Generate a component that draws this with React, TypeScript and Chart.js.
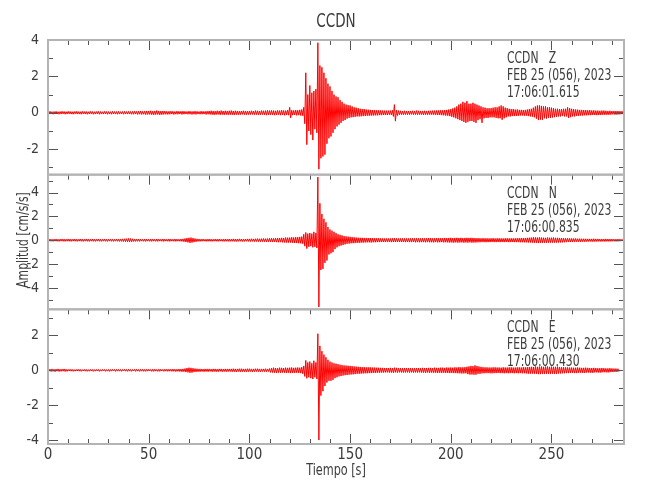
import React, { useEffect, useRef } from 'react';
import { Chart, registerables } from 'chart.js';

Chart.register(...registerables);

// ---------------- data ----------------
const STATION = 'CCDN';
const X_LABEL = 'Tiempo [s]';
const Y_LABEL = 'Amplitud [cm/s/s]';
const DATE_LABEL = 'FEB 25 (056), 2023';
const COMPONENTS = ['Z', 'N', 'E'];
const START_TIMES = ['17:06:01.615', '17:06:00.835', '17:06:00.430'];
const X_MIN = 0;
const X_MAX = 286;
const X_MAJOR_STEP = 50;
const X_MINOR_STEP = 10;
const BIN_SECONDS = 1; // each bin gives its max (at bin start) and min (at bin middle)
const Y_MAJOR_STEP = 2;
const Y_MINOR_STEP = 1;
const Z_RANGE = [-3.4, 4];
const N_RANGE = [-5.8, 5.5];
const E_RANGE = [-4.23, 3.5];

// per-second maxima / minima, cm/s/s
const Z_HI = [
  0.07, 0.08, 0.06, 0.07, 0.08, 0.06, 0.07, 0.08, 0.07, 0.06,
  0.08, 0.07, 0.06, 0.07, 0.08, 0.07, 0.06, 0.08, 0.07, 0.07,
  0.06, 0.08, 0.07, 0.06, 0.07, 0.08, 0.07, 0.06, 0.08, 0.07,
  0.07, 0.06, 0.08, 0.07, 0.07, 0.08, 0.06, 0.07, 0.08, 0.07,
  0.08, 0.07, 0.08, 0.09, 0.08, 0.09, 0.1, 0.08, 0.09, 0.1,
  0.1, 0.11, 0.09, 0.1, 0.12, 0.1, 0.09, 0.1, 0.09, 0.08,
  0.08, 0.09, 0.08, 0.07, 0.09, 0.08, 0.08, 0.09, 0.08, 0.07,
  0.09, 0.08, 0.08, 0.09, 0.08, 0.07, 0.09, 0.08, 0.08, 0.09,
  0.1, 0.11, 0.1, 0.09, 0.11, 0.1, 0.12, 0.1, 0.11, 0.1,
  0.11, 0.12, 0.1, 0.11, 0.1, 0.09, 0.1, 0.11, 0.1, 0.09,
  0.1, 0.11, 0.1, 0.12, 0.11, 0.1, 0.12, 0.11, 0.12, 0.13,
  0.12, 0.13, 0.12, 0.11, 0.13, 0.12, 0.14, 0.13, 0.12, 0.15,
  0.3, 0.14, 0.13, 0.15, 0.14, 0.16, 0.18, 0.3, 2.2, 1.0,
  1.5, 1.1, 1.2, 1.3, 3.85, 2.6, 2.5, 2.2, 1.9, 1.6,
  1.45, 1.2, 1.0, 0.9, 0.85, 0.7, 0.6, 0.5, 0.45, 0.42,
  0.4, 0.35, 0.3, 0.28, 0.25, 0.22, 0.2, 0.2, 0.18, 0.17,
  0.16, 0.15, 0.15, 0.14, 0.14, 0.13, 0.13, 0.12, 0.12, 0.12,
  0.12, 0.14, 0.45, 0.15, 0.12, 0.11, 0.1, 0.11, 0.1, 0.1,
  0.1, 0.11, 0.1, 0.12, 0.11, 0.1, 0.1, 0.11, 0.1, 0.11,
  0.11, 0.12, 0.12, 0.13, 0.13, 0.14, 0.14, 0.15, 0.16, 0.18,
  0.2, 0.24, 0.28, 0.35, 0.45, 0.5, 0.6, 0.55, 0.64, 0.5,
  0.5, 0.55, 0.5, 0.45, 0.4, 0.35, 0.3, 0.28, 0.25, 0.25,
  0.25, 0.28, 0.3, 0.3, 0.35, 0.4, 0.35, 0.28, 0.25, 0.22,
  0.2, 0.2, 0.18, 0.18, 0.16, 0.16, 0.15, 0.16, 0.18, 0.2,
  0.22, 0.28, 0.35, 0.4, 0.4, 0.38, 0.35, 0.35, 0.3, 0.3,
  0.28, 0.25, 0.22, 0.22, 0.2, 0.2, 0.22, 0.22, 0.3, 0.25,
  0.22, 0.2, 0.18, 0.17, 0.16, 0.16, 0.15, 0.15, 0.14, 0.14,
  0.13, 0.13, 0.12, 0.12, 0.11, 0.12, 0.12, 0.11, 0.1, 0.11,
  0.1, 0.1, 0.1, 0.1, 0.09, 0.09,
];
const Z_LO = [
  -0.07, -0.06, -0.08, -0.07, -0.06, -0.08, -0.07, -0.06, -0.08, -0.07,
  -0.06, -0.07, -0.08, -0.06, -0.07, -0.07, -0.08, -0.06, -0.07, -0.08,
  -0.07, -0.06, -0.08, -0.07, -0.06, -0.08, -0.07, -0.07, -0.06, -0.08,
  -0.07, -0.08, -0.06, -0.07, -0.08, -0.07, -0.06, -0.08, -0.07, -0.07,
  -0.07, -0.08, -0.08, -0.07, -0.09, -0.08, -0.09, -0.08, -0.1, -0.09,
  -0.09, -0.1, -0.11, -0.1, -0.09, -0.11, -0.1, -0.09, -0.08, -0.09,
  -0.08, -0.07, -0.09, -0.08, -0.08, -0.07, -0.09, -0.08, -0.07, -0.08,
  -0.08, -0.09, -0.08, -0.09, -0.07, -0.08, -0.08, -0.07, -0.09, -0.08,
  -0.09, -0.1, -0.11, -0.1, -0.09, -0.11, -0.1, -0.11, -0.1, -0.11,
  -0.1, -0.11, -0.12, -0.1, -0.11, -0.1, -0.09, -0.1, -0.11, -0.1,
  -0.1, -0.09, -0.11, -0.1, -0.12, -0.11, -0.1, -0.12, -0.13, -0.12,
  -0.11, -0.12, -0.13, -0.12, -0.11, -0.13, -0.12, -0.14, -0.12, -0.13,
  -0.28, -0.13, -0.12, -0.14, -0.13, -0.15, -0.16, -0.6, -1.75, -1.0,
  -1.2, -1.5, -0.9, -1.1, -3.1, -2.5, -2.4, -2.3, -1.7, -1.4,
  -1.3, -1.1, -0.9, -0.75, -0.65, -0.55, -0.45, -0.4, -0.32, -0.28,
  -0.25, -0.24, -0.22, -0.2, -0.2, -0.19, -0.18, -0.17, -0.16, -0.16,
  -0.15, -0.15, -0.14, -0.14, -0.13, -0.13, -0.12, -0.12, -0.12, -0.11,
  -0.12, -0.2, -0.46, -0.15, -0.11, -0.1, -0.11, -0.1, -0.1, -0.1,
  -0.09, -0.1, -0.1, -0.11, -0.1, -0.1, -0.11, -0.1, -0.11, -0.1,
  -0.1, -0.11, -0.11, -0.12, -0.12, -0.13, -0.14, -0.15, -0.16, -0.18,
  -0.22, -0.25, -0.3, -0.35, -0.4, -0.45, -0.5, -0.55, -0.5, -0.45,
  -0.45, -0.5, -0.55, -0.4, -0.35, -0.55, -0.3, -0.28, -0.28, -0.25,
  -0.25, -0.25, -0.28, -0.3, -0.3, -0.38, -0.3, -0.25, -0.2, -0.2,
  -0.18, -0.18, -0.17, -0.17, -0.15, -0.15, -0.16, -0.16, -0.18, -0.2,
  -0.22, -0.25, -0.32, -0.4, -0.38, -0.38, -0.3, -0.32, -0.28, -0.28,
  -0.26, -0.24, -0.22, -0.2, -0.2, -0.18, -0.2, -0.2, -0.28, -0.24,
  -0.2, -0.2, -0.17, -0.17, -0.15, -0.15, -0.14, -0.14, -0.13, -0.13,
  -0.12, -0.12, -0.13, -0.12, -0.12, -0.11, -0.11, -0.11, -0.11, -0.1,
  -0.09, -0.1, -0.1, -0.09, -0.08, -0.08,
];

const N_HI = [
  0.09, 0.1, 0.08, 0.09, 0.1, 0.08, 0.09, 0.1, 0.09, 0.08,
  0.1, 0.09, 0.08, 0.1, 0.09, 0.08, 0.1, 0.09, 0.08, 0.1,
  0.09, 0.08, 0.1, 0.09, 0.08, 0.1, 0.09, 0.08, 0.1, 0.09,
  0.08, 0.1, 0.09, 0.08, 0.1, 0.09, 0.1, 0.11, 0.12, 0.13,
  0.15, 0.14, 0.12, 0.1, 0.09, 0.1, 0.09, 0.08, 0.1, 0.09,
  0.08, 0.1, 0.09, 0.08, 0.1, 0.09, 0.08, 0.1, 0.09, 0.08,
  0.1, 0.09, 0.08, 0.1, 0.09, 0.08, 0.1, 0.11, 0.14, 0.18,
  0.2, 0.22, 0.18, 0.14, 0.11, 0.1, 0.09, 0.1, 0.08, 0.09,
  0.1, 0.09, 0.08, 0.1, 0.09, 0.1, 0.08, 0.09, 0.1, 0.09,
  0.1, 0.09, 0.11, 0.1, 0.1, 0.11, 0.1, 0.09, 0.1, 0.11,
  0.11, 0.12, 0.11, 0.12, 0.13, 0.12, 0.13, 0.14, 0.13, 0.14,
  0.15, 0.16, 0.15, 0.17, 0.18, 0.17, 0.2, 0.19, 0.22, 0.21,
  0.22, 0.24, 0.23, 0.25, 0.26, 0.28, 0.3, 0.5, 0.65, 0.55,
  0.6, 0.55, 0.7, 0.6, 5.3, 3.1, 2.2, 1.8, 1.5, 1.1,
  0.9, 0.8, 0.7, 0.6, 0.5, 0.45, 0.4, 0.35, 0.32, 0.3,
  0.28, 0.26, 0.24, 0.22, 0.21, 0.2, 0.2, 0.19, 0.19, 0.18,
  0.18, 0.18, 0.17, 0.17, 0.16, 0.16, 0.15, 0.15, 0.15, 0.15,
  0.15, 0.16, 0.18, 0.16, 0.15, 0.15, 0.16, 0.15, 0.16, 0.15,
  0.16, 0.17, 0.16, 0.17, 0.16, 0.15, 0.17, 0.16, 0.17, 0.18,
  0.18, 0.16, 0.17, 0.18, 0.17, 0.18, 0.17, 0.19, 0.18, 0.19,
  0.2, 0.18, 0.19, 0.2, 0.19, 0.2, 0.18, 0.19, 0.2, 0.19,
  0.2, 0.19, 0.18, 0.17, 0.17, 0.16, 0.17, 0.16, 0.16, 0.15,
  0.16, 0.17, 0.15, 0.16, 0.16, 0.15, 0.15, 0.16, 0.16, 0.15,
  0.16, 0.15, 0.16, 0.17, 0.17, 0.18, 0.18, 0.19, 0.2, 0.21,
  0.22, 0.24, 0.23, 0.22, 0.24, 0.22, 0.21, 0.2, 0.22, 0.21,
  0.21, 0.22, 0.2, 0.2, 0.19, 0.18, 0.17, 0.16, 0.16, 0.15,
  0.15, 0.14, 0.14, 0.13, 0.13, 0.12, 0.12, 0.12, 0.11, 0.11,
  0.11, 0.12, 0.11, 0.11, 0.1, 0.1, 0.1, 0.11, 0.1, 0.1,
  0.1, 0.09, 0.09, 0.1, 0.09, 0.08,
];
const N_LO = [
  -0.08, -0.09, -0.1, -0.08, -0.09, -0.1, -0.08, -0.09, -0.1, -0.08,
  -0.09, -0.1, -0.08, -0.09, -0.1, -0.08, -0.09, -0.1, -0.08, -0.09,
  -0.1, -0.08, -0.09, -0.1, -0.08, -0.09, -0.1, -0.08, -0.09, -0.1,
  -0.08, -0.09, -0.1, -0.08, -0.09, -0.1, -0.1, -0.11, -0.12, -0.13,
  -0.14, -0.13, -0.11, -0.1, -0.09, -0.1, -0.08, -0.09, -0.1, -0.08,
  -0.09, -0.1, -0.08, -0.09, -0.1, -0.08, -0.09, -0.1, -0.08, -0.09,
  -0.1, -0.08, -0.09, -0.1, -0.08, -0.09, -0.1, -0.12, -0.15, -0.18,
  -0.22, -0.2, -0.16, -0.13, -0.1, -0.1, -0.09, -0.08, -0.1, -0.09,
  -0.09, -0.1, -0.08, -0.09, -0.1, -0.08, -0.09, -0.1, -0.09, -0.1,
  -0.1, -0.09, -0.1, -0.11, -0.1, -0.09, -0.11, -0.1, -0.09, -0.1,
  -0.11, -0.1, -0.12, -0.11, -0.12, -0.13, -0.12, -0.13, -0.14, -0.13,
  -0.14, -0.15, -0.14, -0.16, -0.17, -0.16, -0.18, -0.19, -0.2, -0.2,
  -0.2, -0.22, -0.23, -0.24, -0.25, -0.26, -0.3, -0.5, -0.7, -0.55,
  -0.5, -0.6, -0.55, -0.65, -5.6, -2.5, -2.4, -1.9, -1.7, -1.2,
  -1.1, -1.0, -0.75, -0.6, -0.5, -0.45, -0.4, -0.35, -0.3, -0.28,
  -0.26, -0.25, -0.24, -0.22, -0.22, -0.2, -0.2, -0.19, -0.18, -0.18,
  -0.19, -0.17, -0.17, -0.16, -0.16, -0.15, -0.15, -0.15, -0.14, -0.15,
  -0.16, -0.15, -0.15, -0.15, -0.14, -0.15, -0.15, -0.16, -0.15, -0.16,
  -0.16, -0.15, -0.17, -0.16, -0.17, -0.16, -0.16, -0.17, -0.16, -0.17,
  -0.17, -0.18, -0.16, -0.18, -0.17, -0.16, -0.18, -0.17, -0.18, -0.19,
  -0.19, -0.2, -0.18, -0.2, -0.19, -0.18, -0.2, -0.19, -0.2, -0.18,
  -0.2, -0.19, -0.19, -0.17, -0.17, -0.16, -0.16, -0.17, -0.16, -0.16,
  -0.15, -0.16, -0.16, -0.15, -0.16, -0.15, -0.16, -0.15, -0.16, -0.16,
  -0.15, -0.16, -0.16, -0.16, -0.17, -0.17, -0.18, -0.18, -0.19, -0.19,
  -0.2, -0.22, -0.22, -0.24, -0.23, -0.22, -0.21, -0.22, -0.21, -0.2,
  -0.2, -0.2, -0.2, -0.19, -0.19, -0.18, -0.17, -0.16, -0.15, -0.15,
  -0.14, -0.14, -0.13, -0.13, -0.14, -0.12, -0.13, -0.12, -0.11, -0.11,
  -0.12, -0.11, -0.11, -0.1, -0.11, -0.1, -0.11, -0.1, -0.1, -0.1,
  -0.09, -0.1, -0.1, -0.09, -0.08, -0.08,
];

const E_HI = [
  0.06, 0.07, 0.08, 0.06, 0.07, 0.08, 0.06, 0.07, 0.08, 0.06,
  0.05, 0.06, 0.05, 0.04, 0.05, 0.06, 0.05, 0.04, 0.05, 0.05,
  0.04, 0.05, 0.05, 0.04, 0.05, 0.05, 0.04, 0.05, 0.05, 0.04,
  0.05, 0.05, 0.06, 0.05, 0.05, 0.06, 0.05, 0.05, 0.06, 0.05,
  0.06, 0.05, 0.05, 0.06, 0.06, 0.05, 0.06, 0.06, 0.05, 0.06,
  0.06, 0.05, 0.06, 0.06, 0.05, 0.06, 0.06, 0.05, 0.06, 0.06,
  0.06, 0.06, 0.07, 0.06, 0.06, 0.07, 0.07, 0.08, 0.1, 0.13,
  0.15, 0.14, 0.12, 0.1, 0.09, 0.08, 0.08, 0.07, 0.08, 0.08,
  0.08, 0.07, 0.08, 0.08, 0.07, 0.08, 0.08, 0.07, 0.08, 0.08,
  0.08, 0.08, 0.09, 0.08, 0.08, 0.09, 0.09, 0.08, 0.08, 0.09,
  0.09, 0.08, 0.08, 0.09, 0.09, 0.08, 0.08, 0.08, 0.09, 0.08,
  0.1, 0.12, 0.15, 0.13, 0.12, 0.15, 0.14, 0.13, 0.15, 0.14,
  0.15, 0.16, 0.14, 0.15, 0.16, 0.15, 0.18, 0.25, 0.57, 0.45,
  0.5, 0.4, 0.55, 0.45, 2.1, 1.4, 1.1, 0.9, 0.75, 0.6,
  0.5, 0.45, 0.4, 0.38, 0.35, 0.32, 0.3, 0.28, 0.27, 0.26,
  0.25, 0.24, 0.22, 0.21, 0.2, 0.19, 0.18, 0.18, 0.17, 0.17,
  0.17, 0.16, 0.16, 0.15, 0.15, 0.14, 0.14, 0.13, 0.13, 0.13,
  0.14, 0.13, 0.15, 0.14, 0.13, 0.12, 0.12, 0.13, 0.13, 0.12,
  0.13, 0.12, 0.12, 0.13, 0.13, 0.12, 0.14, 0.13, 0.13, 0.14,
  0.14, 0.13, 0.15, 0.14, 0.14, 0.15, 0.15, 0.14, 0.16, 0.15,
  0.16, 0.15, 0.17, 0.16, 0.18, 0.17, 0.17, 0.18, 0.2, 0.22,
  0.25, 0.24, 0.28, 0.25, 0.22, 0.2, 0.18, 0.17, 0.17, 0.16,
  0.16, 0.17, 0.17, 0.16, 0.16, 0.15, 0.17, 0.16, 0.16, 0.17,
  0.17, 0.16, 0.16, 0.17, 0.17, 0.16, 0.18, 0.17, 0.18, 0.19,
  0.2, 0.19, 0.22, 0.2, 0.21, 0.22, 0.2, 0.21, 0.22, 0.2,
  0.21, 0.2, 0.2, 0.21, 0.19, 0.18, 0.18, 0.17, 0.17, 0.16,
  0.16, 0.15, 0.15, 0.16, 0.15, 0.14, 0.14, 0.15, 0.14, 0.13,
  0.13, 0.14, 0.13, 0.12, 0.12, 0.13, 0.12, 0.11, 0.11, 0.12,
  0.11, 0.1, 0.1, 0.09,
];
const E_LO = [
  -0.05, -0.07, -0.06, -0.08, -0.05, -0.07, -0.06, -0.05, -0.07, -0.06,
  -0.04, -0.05, -0.06, -0.05, -0.04, -0.05, -0.06, -0.04, -0.05, -0.06,
  -0.05, -0.04, -0.06, -0.05, -0.04, -0.06, -0.05, -0.04, -0.06, -0.05,
  -0.06, -0.05, -0.04, -0.06, -0.05, -0.05, -0.06, -0.04, -0.05, -0.06,
  -0.05, -0.06, -0.04, -0.06, -0.05, -0.06, -0.05, -0.06, -0.06, -0.05,
  -0.04, -0.06, -0.06, -0.05, -0.06, -0.06, -0.04, -0.06, -0.05, -0.06,
  -0.05, -0.06, -0.06, -0.07, -0.06, -0.07, -0.08, -0.08, -0.1, -0.12,
  -0.14, -0.13, -0.1, -0.09, -0.08, -0.08, -0.07, -0.08, -0.07, -0.08,
  -0.06, -0.08, -0.07, -0.08, -0.08, -0.06, -0.08, -0.07, -0.08, -0.07,
  -0.07, -0.08, -0.08, -0.09, -0.07, -0.09, -0.08, -0.08, -0.09, -0.08,
  -0.07, -0.09, -0.08, -0.07, -0.08, -0.09, -0.07, -0.08, -0.08, -0.07,
  -0.12, -0.13, -0.14, -0.15, -0.13, -0.14, -0.13, -0.14, -0.15, -0.14,
  -0.16, -0.15, -0.15, -0.14, -0.15, -0.16, -0.2, -0.35, -0.46, -0.4,
  -0.45, -0.5, -0.4, -0.5, -4.0, -1.45, -1.2, -0.9, -0.7, -0.6,
  -0.6, -0.55, -0.45, -0.4, -0.35, -0.33, -0.3, -0.28, -0.27, -0.25,
  -0.24, -0.23, -0.22, -0.2, -0.2, -0.19, -0.18, -0.17, -0.17, -0.16,
  -0.16, -0.15, -0.15, -0.14, -0.14, -0.13, -0.13, -0.12, -0.12, -0.13,
  -0.13, -0.14, -0.12, -0.13, -0.12, -0.12, -0.13, -0.12, -0.12, -0.13,
  -0.12, -0.13, -0.12, -0.13, -0.12, -0.13, -0.13, -0.14, -0.13, -0.14,
  -0.13, -0.14, -0.14, -0.15, -0.14, -0.15, -0.14, -0.15, -0.15, -0.16,
  -0.15, -0.16, -0.16, -0.17, -0.17, -0.18, -0.18, -0.17, -0.22, -0.24,
  -0.24, -0.25, -0.25, -0.2, -0.2, -0.17, -0.17, -0.16, -0.16, -0.17,
  -0.17, -0.16, -0.16, -0.15, -0.16, -0.16, -0.17, -0.16, -0.17, -0.16,
  -0.16, -0.17, -0.16, -0.17, -0.16, -0.17, -0.17, -0.18, -0.19, -0.19,
  -0.19, -0.2, -0.2, -0.22, -0.22, -0.21, -0.21, -0.2, -0.2, -0.21,
  -0.2, -0.21, -0.21, -0.18, -0.18, -0.17, -0.17, -0.16, -0.16, -0.15,
  -0.15, -0.16, -0.16, -0.14, -0.14, -0.15, -0.15, -0.13, -0.13, -0.14,
  -0.14, -0.12, -0.12, -0.13, -0.13, -0.11, -0.11, -0.12, -0.12, -0.1,
  -0.1, -0.09, -0.09, -0.08,
];

// ---------------- styling ----------------
const FONT_FAMILY = "'DejaVu Sans Condensed', 'Liberation Sans', sans-serif";
const TEXT_COLOR = '#3c3c3c';
const TICK_COLOR = '#555555';
const FRAME_COLOR = '#b4b4b4';
const TRACE_COLOR = '#ff0000';

const PANEL_IDS = ['yZ', 'yN', 'yE'];

function squeezedText(ctx: any, text: string, x: number, y: number, sx: number) {
  ctx.save();
  ctx.translate(x, y);
  ctx.scale(sx, 1);
  ctx.fillText(text, 0, 0);
  ctx.restore();
}

const panelPlugin = {
  id: 'seismoPanels',
  afterDraw(chart: any) {
    const { ctx } = chart;
    const xs = chart.scales.x;
    const left = xs.left;
    const right = xs.right;
    ctx.save();
    const seg = (x1: number, y1: number, x2: number, y2: number) => {
      ctx.beginPath();
      ctx.moveTo(x1, y1);
      ctx.lineTo(x2, y2);
      ctx.stroke();
    };
    PANEL_IDS.forEach((id, i) => {
      const s = chart.scales[id];
      const top = s.top;
      const bottom = s.bottom;
      ctx.strokeStyle = TICK_COLOR;
      ctx.lineWidth = 1;
      for (let t = X_MIN; t <= X_MAX; t += X_MINOR_STEP) {
        const px = Math.round(xs.getPixelForValue(t)) + 0.5;
        const len = t % X_MAJOR_STEP === 0 ? 10 : 5;
        seg(px, top, px, top + len);
        if (i === PANEL_IDS.length - 1) seg(px, bottom, px, bottom - len);
      }
      for (let v = Math.ceil(s.min); v <= Math.floor(s.max); v += Y_MINOR_STEP) {
        const py = Math.round(s.getPixelForValue(v)) + 0.5;
        const len = v % Y_MAJOR_STEP === 0 ? 10 : 5;
        seg(left, py, left + len, py);
        seg(right, py, right - len, py);
      }
      ctx.strokeStyle = FRAME_COLOR;
      ctx.lineWidth = 2;
      ctx.strokeRect(left, top, right - left, bottom - top);

      ctx.fillStyle = TEXT_COLOR;
      ctx.font = `15px ${FONT_FAMILY}`;
      ctx.textAlign = 'left';
      ctx.textBaseline = 'middle';
      const tx = 507;
      squeezedText(ctx, `${STATION}   ${COMPONENTS[i]}`, tx, top + 19, 0.8);
      squeezedText(ctx, DATE_LABEL, tx, top + 36, 0.8);
      squeezedText(ctx, START_TIMES[i], tx, top + 53, 0.8);
    });

    ctx.fillStyle = TEXT_COLOR;
    ctx.textAlign = 'center';
    ctx.textBaseline = 'middle';
    ctx.font = `20px ${FONT_FAMILY}`;
    squeezedText(ctx, STATION, (left + right) / 2, 22, 0.75);
    ctx.font = `16px ${FONT_FAMILY}`;
    squeezedText(ctx, X_LABEL, (left + right) / 2, 471, 0.78);
    ctx.font = `15px ${FONT_FAMILY}`;
    ctx.save();
    ctx.translate(24, 240);
    ctx.rotate(-Math.PI / 2);
    ctx.scale(0.8, 1);
    ctx.fillText(Y_LABEL, 0, 0);
    ctx.restore();
    ctx.restore();
  },
};

function yScale(range: number[]) {
  return {
    type: 'linear',
    position: 'left',
    stack: 'seismo',
    stackWeight: 1,
    min: range[0],
    max: range[1],
    grid: { display: false },
    border: { display: false },
    ticks: {
      stepSize: Y_MAJOR_STEP,
      includeBounds: false,
      autoSkip: false,
      padding: 1,
      color: TEXT_COLOR,
      font: { family: FONT_FAMILY, size: 14 },
    },
    afterFit: (s: any) => {
      s.width = 48;
    },
  };
}

// each bin contributes its maximum then its minimum, giving the dense trace
function trace(hi: number[], lo: number[], axis: string) {
  const pts: { x: number; y: number }[] = [];
  hi.forEach((v, i) => {
    const t = X_MIN + i * BIN_SECONDS;
    pts.push({ x: t, y: v });
    pts.push({ x: t + BIN_SECONDS / 2, y: lo[i] });
  });
  return {
    data: pts,
    yAxisID: axis,
    borderColor: TRACE_COLOR,
    borderWidth: 1,
    pointRadius: 0,
    tension: 0,
    fill: false,
  };
}

export default function App() {
  const ref = useRef<HTMLCanvasElement | null>(null);
  useEffect(() => {
    if (!ref.current) return;
    const chart = new Chart(ref.current, {
      type: 'line',
      data: {
        datasets: [trace(Z_HI, Z_LO, 'yZ'), trace(N_HI, N_LO, 'yN'), trace(E_HI, E_LO, 'yE')] as any,
      },
      options: {
        animation: false,
        responsive: false,
        maintainAspectRatio: false,
        devicePixelRatio: 1,
        layout: { padding: { top: 40, right: 26, bottom: 0, left: 0 } },
        plugins: { legend: { display: false }, tooltip: { enabled: false }, title: { display: false } },
        scales: {
          x: {
            type: 'linear',
            min: X_MIN,
            max: X_MAX,
            grid: { display: false },
            border: { display: false },
            ticks: {
              stepSize: X_MAJOR_STEP,
              includeBounds: false,
              autoSkip: false,
              maxRotation: 0,
              padding: -6,
              color: TEXT_COLOR,
              font: { family: FONT_FAMILY, size: 15 },
            },
            afterFit: (s: any) => {
              s.height = 56;
            },
          },
          // stacked axes are laid out bottom-up in definition order
          yE: yScale(E_RANGE),
          yN: yScale(N_RANGE),
          yZ: yScale(Z_RANGE),
        } as any,
      },
      plugins: [panelPlugin],
    });
    return () => chart.destroy();
  }, []);
  return (
    <div style={{ position: 'fixed', left: 0, top: 0, width: 650, height: 500, background: '#fff' }}>
      <canvas ref={ref} width={650} height={500} style={{ width: 650, height: 500 }} />
    </div>
  );
}
